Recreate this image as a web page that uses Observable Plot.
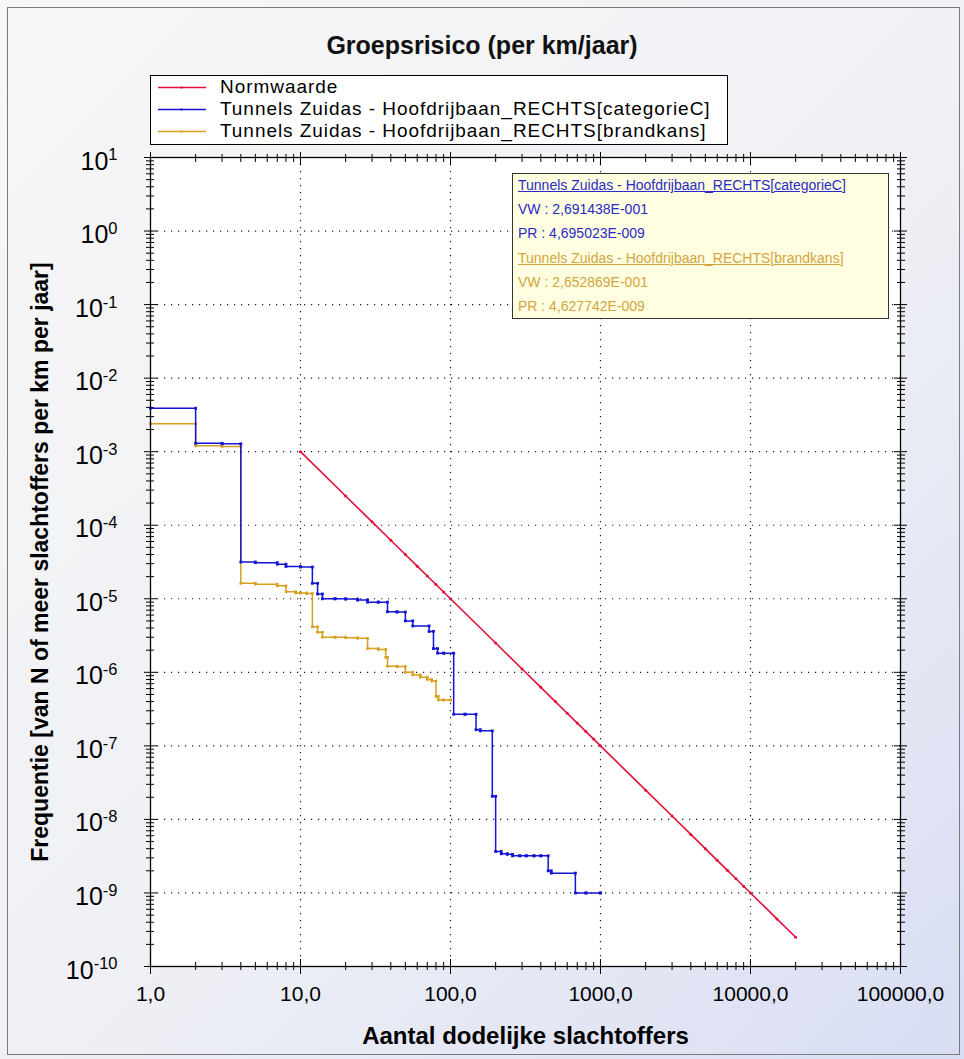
<!DOCTYPE html>
<html><head><meta charset="utf-8">
<script src="https://cdn.jsdelivr.net/npm/d3@7"></script>
<script src="https://cdn.jsdelivr.net/npm/@observablehq/plot@0.6"></script>
<style>
body{margin:0;}
#page{position:relative;width:964px;height:1059px;overflow:hidden;font-family:"Liberation Sans",Arial,sans-serif;background:linear-gradient(135deg,#f7f7f7 0%,#eff0f5 55%,#d8ddf3 100%);}
#border{position:absolute;left:7px;top:7px;width:953px;height:1048px;border:1px solid #7a7a7a;box-sizing:border-box;}
#chart{position:absolute;left:0;top:0;}
#title{position:absolute;left:0;top:32px;width:964px;text-align:center;font-weight:bold;font-size:25px;line-height:26px;color:#111;}
#legend{position:absolute;left:150px;top:75px;width:578px;height:70px;border:1px solid #000;background:#fff;box-sizing:border-box;}
.lrow{position:absolute;left:0;height:22px;line-height:22px;font-size:19px;letter-spacing:0.95px;white-space:nowrap;color:#000;}
.lrow svg{position:absolute;left:7px;top:0;}
.lrow span{position:absolute;left:69px;top:0;}
#note{position:absolute;left:512px;top:173px;width:377px;height:146px;border:1px solid #333;background:#fffee0;box-sizing:border-box;font-size:14px;}
.nrow{position:absolute;left:5px;white-space:nowrap;line-height:16px;}
.u{text-decoration:underline;}
</style></head>
<body>
<div id="page">
  <div id="chart"></div>
  <div id="border"></div>
  <div id="title"></div>
  <div id="legend"></div>
  <div id="note"></div>
</div>
<script>
// ---------- data ----------
const titleText = "Groepsrisico (per km/jaar)";
const xTitle = "Aantal dodelijke slachtoffers";
const yTitle = "Frequentie [van N of meer slachtoffers per km per jaar]";

const seriesNames = ["Normwaarde", "Tunnels Zuidas - Hoofdrijbaan_RECHTS[categorieC]", "Tunnels Zuidas - Hoofdrijbaan_RECHTS[brandkans]"];
const seriesColors = ["#e3103a", "#1414d4", "#d8a020"];

const xTicks = [1, 10, 100, 1000, 10000, 100000];
const xTickLabels = ["1,0", "10,0", "100,0", "1000,0", "10000,0", "100000,0"];
const yTickExponents = [1, 0, -1, -2, -3, -4, -5, -6, -7, -8, -9, -10];

const normN = [10, 20, 30, 40, 50, 60, 70, 80, 90, 100, 200, 300, 400, 500, 600, 700, 800, 900, 1000,
  2000, 3000, 4000, 5000, 6000, 7000, 8000, 9000, 10000, 15000, 20000];
const normF = [1e-3, 2.5e-4, 1.111e-4, 6.25e-5, 4e-5, 2.778e-5, 2.041e-5, 1.5625e-5, 1.235e-5, 1e-5,
  2.5e-6, 1.111e-6, 6.25e-7, 4e-7, 2.778e-7, 2.041e-7, 1.5625e-7, 1.235e-7, 1e-7,
  2.5e-8, 1.111e-8, 6.25e-9, 4e-9, 2.778e-9, 2.041e-9, 1.5625e-9, 1.235e-9, 1e-9, 4.44e-10, 2.5e-10];

const blueN = [1, 2, 3, 4, 5, 7, 8, 10, 12, 13, 14, 17, 20, 24, 28, 33, 38, 44, 50, 56, 72, 77, 82, 90,
  105, 125, 148, 158, 190, 200, 218, 239, 259, 290, 320, 360, 400, 448, 470, 680, 800, 1000];
const blueF = [3.9e-3, 1.3e-3, 1.28e-3, 3.16e-5, 3.1e-5, 2.95e-5, 2.75e-5, 2.7e-5, 1.62e-5, 1.16e-5, 1.0e-5,
  1.0e-5, 9.9e-6, 9.6e-6, 9.0e-6, 9.0e-6, 6.65e-6, 6.6e-6, 5.0e-6, 4.27e-6, 3.6e-6, 2.1e-6, 1.82e-6, 1.82e-6,
  2.69e-7, 2.69e-7, 1.66e-7, 1.6e-7, 2.06e-8, 3.67e-9, 3.41e-9, 3.35e-9, 3.2e-9, 3.2e-9, 3.2e-9, 3.2e-9, 3.2e-9,
  2.0e-9, 1.86e-9, 1.0e-9, 1.0e-9, 1.0e-9];

const orangeN = [1, 2, 3, 4, 5, 7, 8, 9.3, 10, 11, 12, 13, 14, 17, 20, 24, 28, 33, 37, 38, 44, 50, 56, 63, 70, 75, 80, 83, 90, 100];
const orangeF = [2.4e-3, 1.2e-3, 1.18e-3, 1.62e-5, 1.58e-5, 1.5e-5, 1.25e-5, 1.2e-5, 1.2e-5, 1.18e-5, 4.15e-6, 3.5e-6, 3.0e-6,
  3.0e-6, 2.95e-6, 2.9e-6, 2.1e-6, 2.05e-6, 1.6e-6, 1.21e-6, 1.2e-6, 1.0e-6, 9.2e-7, 8.6e-7, 8.0e-7, 7.6e-7, 4.7e-7, 4.2e-7, 4.2e-7, 4.2e-7];

const noteLines = [
  ["Tunnels Zuidas - Hoofdrijbaan_RECHTS[categorieC]", 1, true],
  ["VW : 2,691438E-001", 1, false],
  ["PR : 4,695023E-009", 1, false],
  ["Tunnels Zuidas - Hoofdrijbaan_RECHTS[brandkans]", 2, true],
  ["VW : 2,652869E-001", 2, false],
  ["PR : 4,627742E-009", 2, false]
];
const noteColors = ["", "#2a2ac8", "#d2a540"];

// ---------- build ----------
const zip = (N, F) => N.map((n, i) => ({n, f: F[i]}));
const norm = zip(normN, normF), blue = zip(blueN, blueF), orange = zip(orangeN, orangeF);
const corners = d => d.slice(1).map((p, i) => ({n: p.n, f: d[i].f}));

const yMajor = yTickExponents.map(e => Math.pow(10, e));
const yMinor = [];
for (let e = -10; e < 1; e++) for (let k = 2; k <= 9; k++) yMinor.push(k * Math.pow(10, e));
const xMinor = [];
for (let e = 0; e < 5; e++) for (let k = 2; k <= 9; k++) xMinor.push(k * Math.pow(10, e));
const xInner = xTicks.slice(1, -1);
const yInner = yMajor.slice(1, -1);

const gridStyle = {stroke: "#000", strokeOpacity: 0.9, strokeWidth: 1.2, strokeDasharray: "1.2,5.8"};

const plot = Plot.plot({
  width: 964, height: 1059,
  marginLeft: 150, marginRight: 64, marginTop: 157, marginBottom: 93,
  style: {fontFamily: "'Liberation Sans', Arial, sans-serif", background: "transparent", color: "#000"},
  x: {type: "log", domain: [1, 100000], label: null},
  y: {type: "log", domain: [1e-10, 10], label: null},
  marks: [
    Plot.frame({fill: "#fff", stroke: null}),
    Plot.gridX(xInner, gridStyle),
    Plot.gridY(yInner, gridStyle),
    // tick marks
    Plot.axisY(yMajor, {anchor: "left", tickSize: 13, dx: 7, fill: "none", label: null}),
    Plot.axisY(yMinor, {anchor: "left", tickSize: 8, dx: 4, fill: "none", label: null}),
    Plot.axisY(yMajor, {anchor: "right", tickSize: 13, dx: -7, fill: "none", label: null}),
    Plot.axisY(yMinor, {anchor: "right", tickSize: 8, dx: -4, fill: "none", label: null}),
    Plot.axisX(xTicks, {anchor: "bottom", tickSize: 15, dy: -7, fill: "none", label: null}),
    Plot.axisX(xMinor, {anchor: "bottom", tickSize: 8, dy: -4, fill: "none", label: null}),
    Plot.axisX(xTicks, {anchor: "top", tickSize: 13, dy: 7, fill: "none", label: null}),
    Plot.axisX(xMinor, {anchor: "top", tickSize: 8, dy: 4, fill: "none", label: null}),
    // tick labels
    Plot.axisX(xTicks, {anchor: "bottom", tickSize: 0, tickPadding: 20, fontSize: 21,
      tickFormat: d => xTickLabels[xTicks.indexOf(d)], label: null}),
    Plot.axisY(yMajor, {anchor: "left", tickSize: 0, tickPadding: 33, fontSize: 25, dy: 4,
      tickFormat: d => "10^" + Math.round(Math.log10(d)), label: null}),
    // titles
    Plot.text([xTitle], {frameAnchor: "bottom", dy: 70, lineAnchor: "middle", textAnchor: "middle", fontSize: 24, fontWeight: "bold"}),
    Plot.text([yTitle], {frameAnchor: "left", dx: -110, rotate: -90, lineAnchor: "middle", textAnchor: "middle", fontSize: 23, fontWeight: "bold"}),
    // series
    Plot.line(norm, {x: "n", y: "f", stroke: seriesColors[0], strokeWidth: 1.6}),
    Plot.dot(norm, {x: "n", y: "f", r: 1.5, fill: seriesColors[0], stroke: null}),
    Plot.line(orange, {x: "n", y: "f", stroke: seriesColors[2], strokeWidth: 1.5, curve: "step-after"}),
    Plot.dot(orange, {x: "n", y: "f", r: 1.5, symbol: "square", fill: seriesColors[2], stroke: null}),
    Plot.dot(corners(orange), {x: "n", y: "f", r: 1.5, symbol: "square", fill: seriesColors[2], stroke: null}),
    Plot.line(blue, {x: "n", y: "f", stroke: seriesColors[1], strokeWidth: 1.5, curve: "step-after"}),
    Plot.dot(blue, {x: "n", y: "f", r: 1.6, symbol: "square", fill: seriesColors[1], stroke: null}),
    Plot.dot(corners(blue), {x: "n", y: "f", r: 1.6, symbol: "square", fill: seriesColors[1], stroke: null}),
    Plot.frame({stroke: "#000", strokeWidth: 1.3})
  ]
});

// superscript exponents on y tick labels
d3.select(plot).selectAll('g[aria-label="y-axis tick label"] text').each(function () {
  const t = d3.select(this);
  const s = t.text();
  const e = s.split("^")[1];
  t.text("10");
  t.append("tspan").attr("dy", "-0.55em").attr("font-size", "0.66em").text(e);
});

document.getElementById("chart").appendChild(plot);
document.getElementById("title").textContent = titleText;

// legend
const legend = document.getElementById("legend");
seriesNames.forEach((name, i) => {
  const row = document.createElement("div");
  row.className = "lrow";
  row.style.top = (0 + i * 22) + "px";
  row.innerHTML = `<svg width="50" height="22"><line x1="0" x2="48" y1="11.5" y2="11.5" stroke="${seriesColors[i]}" stroke-width="1.3"/><rect x="22.5" y="10.5" width="2" height="2" fill="${seriesColors[i]}"/></svg><span></span>`;
  row.querySelector("span").textContent = name;
  legend.appendChild(row);
});

// annotation box
const note = document.getElementById("note");
noteLines.forEach(([txt, c, u], i) => {
  const r = document.createElement("div");
  r.className = "nrow" + (u ? " u" : "");
  r.style.top = (3 + i * 24.2) + "px";
  r.style.color = noteColors[c];
  r.textContent = txt;
  note.appendChild(r);
});
</script>
</body></html>
